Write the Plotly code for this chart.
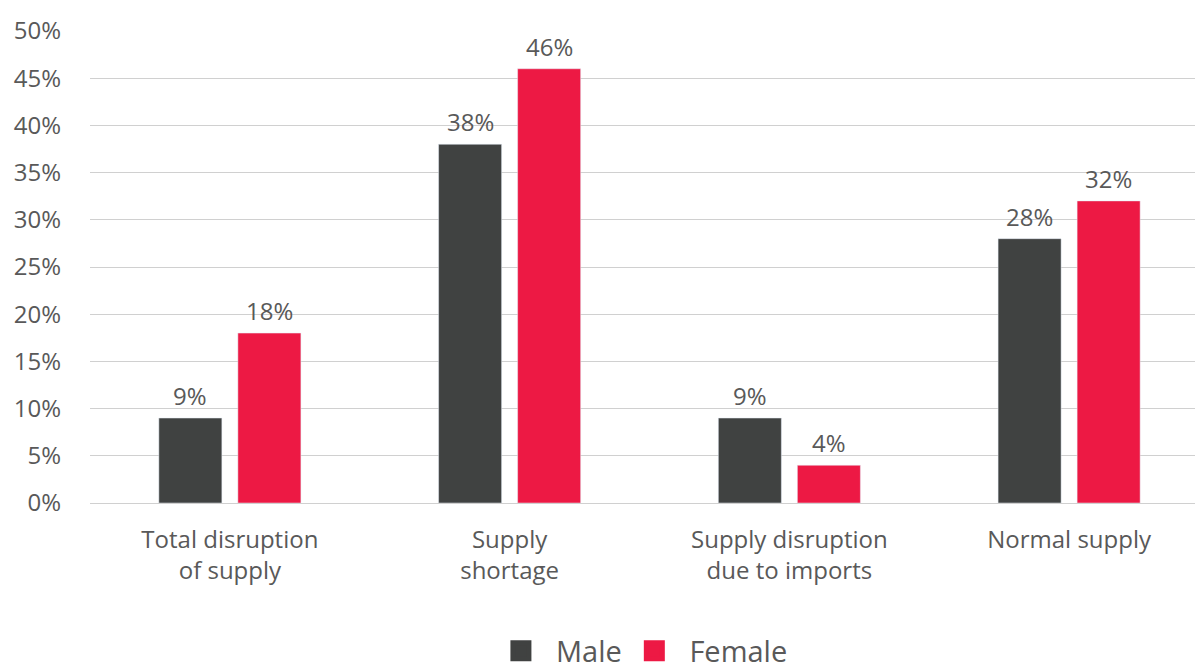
import plotly.graph_objects as go

categories = ["Total disruption<br>of supply", "Supply<br>shortage",
              "Supply disruption<br>due to imports", "Normal supply"]
male = [9, 38, 9, 28]
female = [18, 46, 4, 32]
y_ticks = [0, 5, 10, 15, 20, 25, 30, 35, 40, 45, 50]
y_tick_labels = [f"{v}%" for v in y_ticks]

FONT = "Open Sans, sans-serif"
TXT = "#595959"
MALE_C = "#404241"
FEMALE_C = "#ED1944"
BARGAP = 0.435
BARGROUPGAP = 0.2025
NB = "\u00a0"

fig = go.Figure()
fig.add_trace(go.Bar(x=categories, y=male, name="Male", marker_color=MALE_C,
                     showlegend=False))
fig.add_trace(go.Bar(x=categories, y=female, name="Female", marker_color=FEMALE_C,
                     showlegend=False))
# legend proxies with larger square swatches
for nm, c, tail in [("Male", MALE_C, NB), ("Female", FEMALE_C, "")]:
    fig.add_trace(go.Scatter(x=[None], y=[None], mode="markers",
                             name=NB * 2 + nm + tail,
                             marker=dict(symbol="square", size=40, color=c,
                                         line=dict(color=c, width=5))))

# value labels above bars (offset = centre of each bar within its group)
off = (1 - BARGAP) / 4
for i in range(len(categories)):
    for val, dx in [(male[i], -off), (female[i], off)]:
        fig.add_annotation(x=i + dx, y=val, text=f"{val}%", showarrow=False,
                           yanchor="bottom", yshift=4,
                           font=dict(size=24, color=TXT, family=FONT))

fig.update_layout(
    width=1195, height=671,
    margin=dict(l=90, r=0, t=31, b=168, autoexpand=False),
    plot_bgcolor="white", paper_bgcolor="white",
    barmode="group", bargap=BARGAP, bargroupgap=BARGROUPGAP,
    font=dict(family=FONT, color=TXT, size=24),
    legend=dict(orientation="h", x=0.504, xanchor="center",
                yref="container", y=0.03, yanchor="middle",
                font=dict(size=29, color=TXT), itemsizing="trace",
                traceorder="normal"),
    xaxis=dict(range=[-0.5, 3.45], showgrid=False, showline=False, ticks="",
               tickfont=dict(size=24, color=TXT), ticklabelstandoff=20,
               automargin=False),
    yaxis=dict(range=[0, 50], tickvals=y_ticks, ticktext=y_tick_labels,
               showgrid=True, gridcolor="#d0d0d0", gridwidth=1,
               zeroline=True, zerolinecolor="#d0d0d0", zerolinewidth=1,
               showline=False, ticks="", tickfont=dict(size=24, color=TXT),
               ticklabelstandoff=28, automargin=False),
)
fig.write_html("out.html")
